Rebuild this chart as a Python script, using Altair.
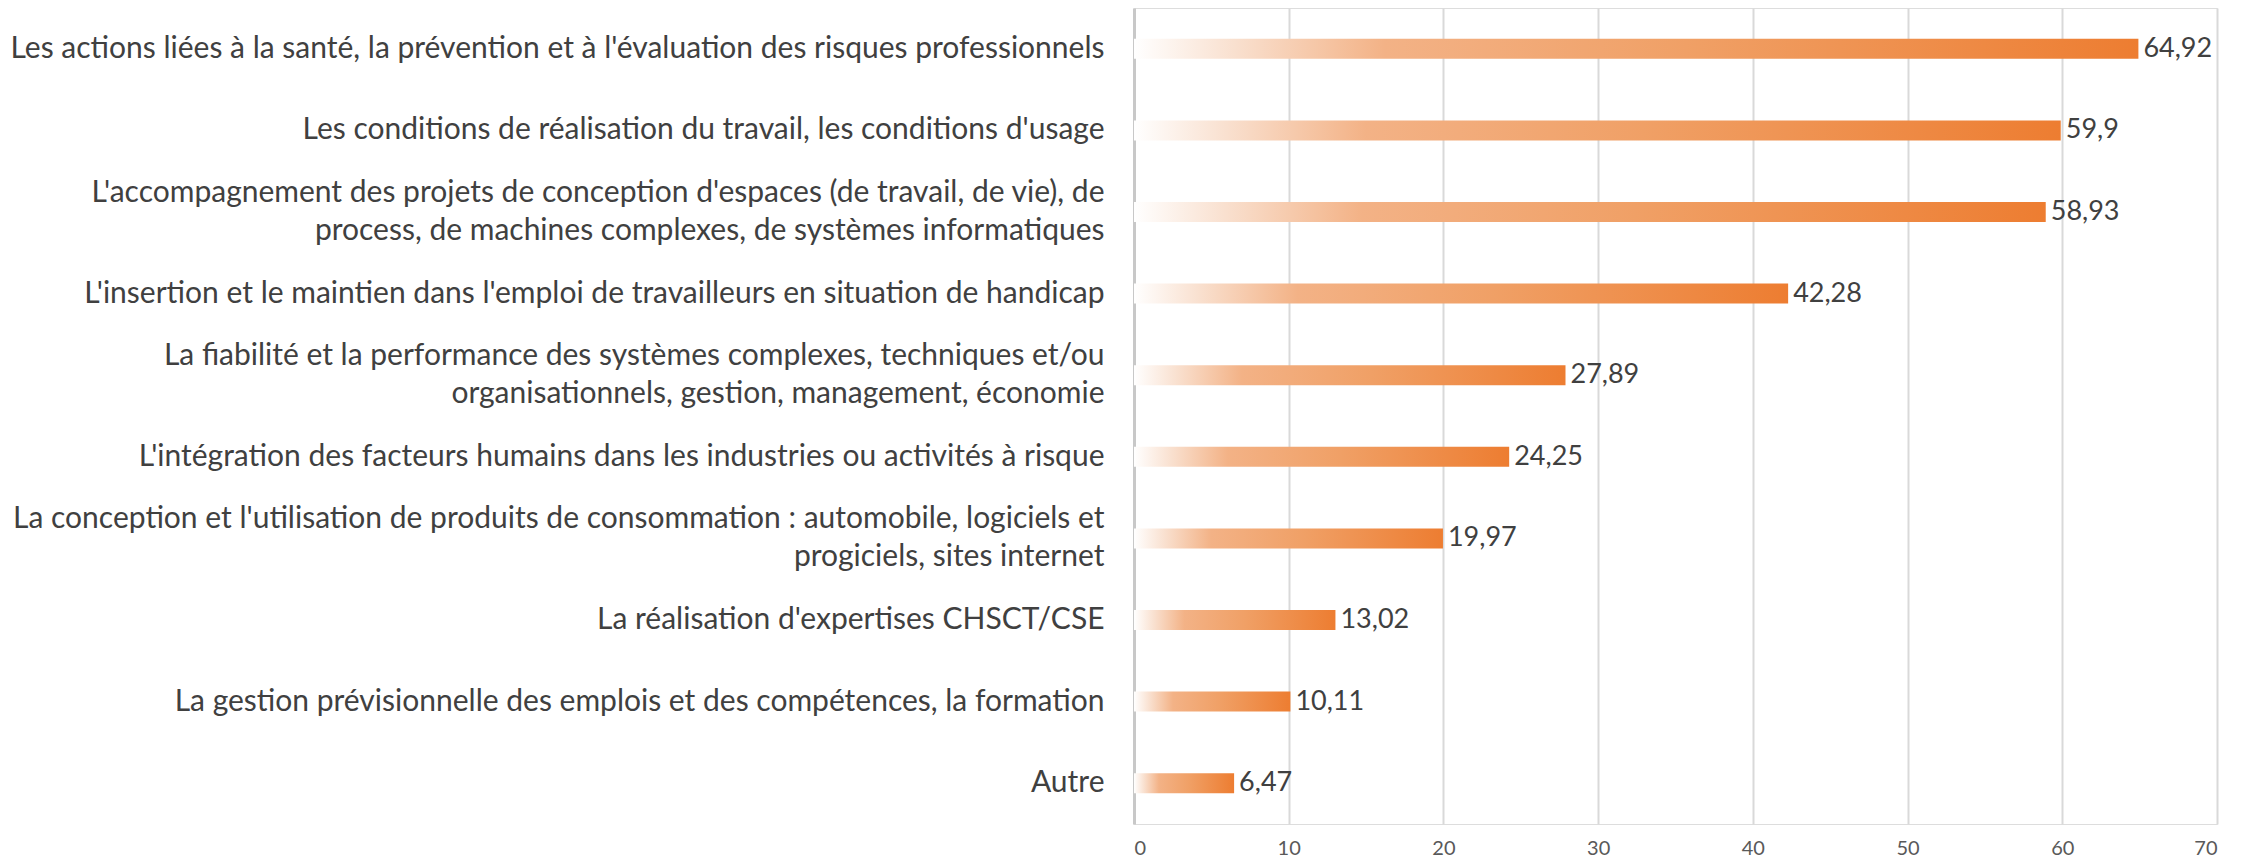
import altair as alt
import pandas as pd

categories = [
    "Les actions liées à la santé, la prévention et à l'évaluation des risques professionnels",
    "Les conditions de réalisation du travail, les conditions d'usage",
    "L'accompagnement des projets de conception d'espaces (de travail, de vie), de|process, de machines complexes, de systèmes informatiques",
    "L'insertion et le maintien dans l'emploi de travailleurs en situation de handicap",
    "La fiabilité et la performance des systèmes complexes, techniques et/ou|organisationnels, gestion, management, économie",
    "L'intégration des facteurs humains dans les industries ou activités à risque",
    "La conception et l'utilisation de produits de consommation : automobile, logiciels et|progiciels, sites internet",
    "La réalisation d'expertises CHSCT/CSE",
    "La gestion prévisionnelle des emplois et des compétences, la formation",
    "Autre",
]
values = [64.92, 59.9, 58.93, 42.28, 27.89, 24.25, 19.97, 13.02, 10.11, 6.47]
value_labels = ["64,92", "59,9", "58,93", "42,28", "27,89", "24,25", "19,97", "13,02", "10,11", "6,47"]
x_ticks = [0, 10, 20, 30, 40, 50, 60, 70]

df = pd.DataFrame({"cat": categories, "val": values, "lab": value_labels})

FONT = "Lato"

gradient = alt.Gradient(
    gradient="linear",
    stops=[
        alt.GradientStop(color="#FFFFFF", offset=0),
        alt.GradientStop(color="#F9E0CF", offset=0.1),
        alt.GradientStop(color="#F3B286", offset=0.25),
        alt.GradientStop(color="#F0A066", offset=0.55),
        alt.GradientStop(color="#ED7D31", offset=1),
    ],
    x1=0, x2=1, y1=0, y2=0,
)

y_enc = alt.Y(
    "cat:N",
    sort=None,
    title=None,
    scale=alt.Scale(paddingInner=0.755, paddingOuter=0.3775),
    axis=alt.Axis(
        labelExpr="split(datum.label, '|')",
        labelFont=FONT,
        labelFontSize=30,
        labelColor="#404040",
        labelLimit=1200,
        labelPadding=30,
        labelLineHeight=38,
        labelOffset={"condition": {"test": "indexof(datum.value, '|') >= 0", "value": -19}, "value": 0},
        ticks=False,
        domain=True,
        domainColor="#C8C8C8",
        domainWidth=3,
        grid=False,
    ),
)

x_enc = alt.X(
    "val:Q",
    title=None,
    scale=alt.Scale(domain=[0, 70], nice=False),
    axis=alt.Axis(
        values=x_ticks,
        labelFont=FONT,
        labelFontSize=20,
        labelColor="#595959",
        labelPadding=14,
        ticks=False,
        domain=False,
        grid=True,
        gridColor="#D9D9D9",
        gridWidth=2,
    ),
)

bars = alt.Chart(df).mark_bar(color=gradient).encode(x=x_enc, y=y_enc)

texts = alt.Chart(df).mark_text(
    align="left", baseline="middle", dx=5, font=FONT, fontSize=27, color="#404040"
).encode(x="val:Q", y=alt.Y("cat:N", sort=None), text="lab:N")

chart = (
    alt.layer(bars, texts)
    .properties(
        width=1083,
        height=816,
        autosize=alt.AutoSizeParams(type="none"),
        padding={"left": 1126, "top": 0, "right": 20, "bottom": 38},
    )
    .configure_view(stroke=None)
    .configure(background="white")
)

chart.save("out.html", embed_options={"renderer": "svg", "actions": False})
